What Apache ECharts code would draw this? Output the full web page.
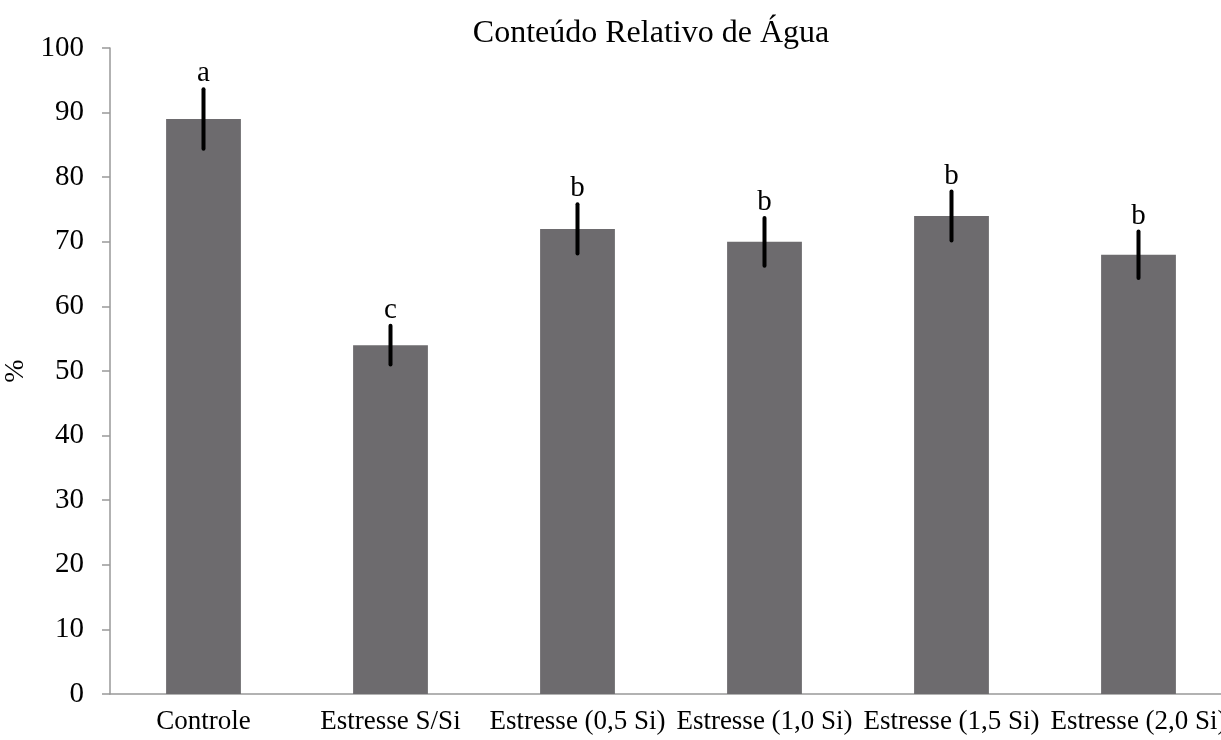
<!DOCTYPE html>
<html><head><meta charset="utf-8">
<script src="https://cdn.jsdelivr.net/npm/echarts@6/dist/echarts.min.js"></script>
<style>html,body{margin:0;padding:0;background:#fff}#c{width:1221px;height:740px}</style>
</head><body><div id="c"></div>
<script>
const categories = ['Controle','Estresse S/Si','Estresse (0,5 Si)','Estresse (1,0 Si)','Estresse (1,5 Si)','Estresse (2,0 Si)'];
const values = [89, 54, 72, 70, 74, 68];
const errors = [4.6, 3.0, 3.8, 3.7, 3.8, 3.6];
const letters = ['a','c','b','b','b','b'];
const yTicks = [0,10,20,30,40,50,60,70,80,90,100];

const font = '"Liberation Serif", "Times New Roman", serif';
const chart = echarts.init(document.getElementById('c'));
chart.setOption({
  animation: false,
  title: {text: 'Conteúdo Relativo de Água', left: 646, top: 13, textAlign: 'center',
    textStyle: {fontFamily: font, fontSize: 32, fontWeight: 'normal', color: '#000'}},
  grid: {left: 110, width: 1122, top: 48, bottom: 46, containLabel: false, outerBoundsMode: 'none'},
  xAxis: {type: 'category', data: categories,
    axisLine: {lineStyle: {color: '#999', width: 1.5}},
    axisTick: {show: false},
    axisLabel: {fontFamily: font, fontSize: 27, color: '#000', margin: 14, interval: 0}},
  yAxis: {type: 'value', min: 0, max: 100, interval: 10,
    name: '%', nameLocation: 'middle', nameGap: 74, nameRotate: 90,
    nameTextStyle: {fontFamily: font, fontSize: 28, color: '#000'},
    axisLine: {show: true, lineStyle: {color: '#999', width: 1.5}},
    axisTick: {show: true, length: 8, lineStyle: {color: '#999', width: 1.5}},
    splitLine: {show: false},
    axisLabel: {fontFamily: font, fontSize: 29, color: '#000', margin: 26,
      formatter: v => yTicks.includes(v) ? String(v) : ''}},
  series: [
    {type: 'bar', data: values, barWidth: '40%', itemStyle: {color: '#6d6b6e'}},
    {type: 'custom', data: values.map((v,i) => [i, v - errors[i], v + errors[i], letters[i]]),
      renderItem: (params, api) => {
        const lo = api.coord([api.value(0), api.value(1)]);
        const hi = api.coord([api.value(0), api.value(2)]);
        return {type: 'group', children: [
          {type: 'line', shape: {x1: lo[0], y1: lo[1], x2: hi[0], y2: hi[1]},
            style: {stroke: '#000', lineWidth: 4, lineCap: 'round'}},
          {type: 'text', style: {text: letters[params.dataIndex], x: hi[0], y: hi[1] - 1,
            textAlign: 'center', textVerticalAlign: 'bottom',
            font: '29px ' + font, fill: '#000'}}
        ]};
      }, z: 5}
  ]
});
</script></body></html>
